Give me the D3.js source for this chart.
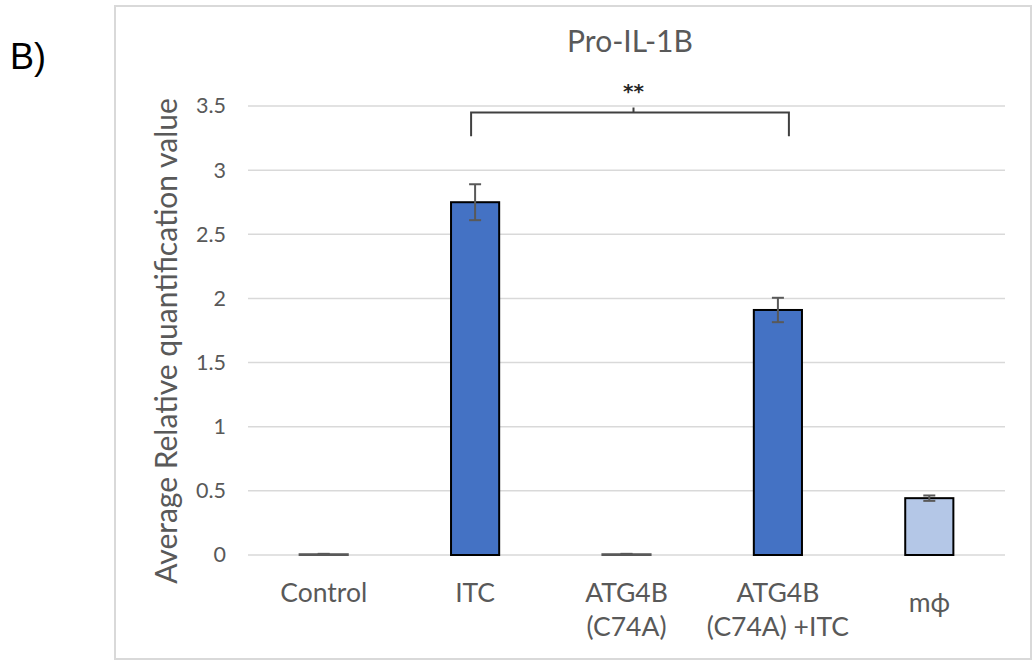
<!DOCTYPE html>
<html>
<head>
<meta charset="utf-8">
<script src="https://cdn.jsdelivr.net/npm/d3@7"></script>
<style>
  html, body { margin: 0; padding: 0; background: #fff; }
  svg text { font-family: Lato, "Open Sans", sans-serif; }
</style>
</head>
<body>
<svg id="chart" width="1036" height="664"></svg>
<script>
// Data
const categories = ['Control', 'ITC', 'ATG4B\n(C74A)', 'ATG4B\n(C74A) +ITC', 'm\u03d5'];
const values = [0.006, 2.75, 0.006, 1.91, 0.443];
const errors = [0.003, 0.14, 0.003, 0.095, 0.021];
const barColors = ['#4472c4', '#4472c4', '#4472c4', '#4472c4', '#b4c7e7'];
const yTicks = [0, 0.5, 1, 1.5, 2, 2.5, 3, 3.5];
const bracket = { from: 'ITC', to: 'ATG4B\n(C74A) +ITC', top: 3.45, foot: 3.265, label: '**' };

const svg = d3.select('#chart');

// Outer chart frame
svg.append('rect')
  .attr('x', 115).attr('y', 6)
  .attr('width', 916).attr('height', 653)
  .attr('fill', '#fff').attr('stroke', '#d9d9d9').attr('stroke-width', 2);

svg.append('text')
  .attr('x', 10).attr('y', 69)
  .style('font-family', '"Liberation Sans", Arial, sans-serif')
  .attr('font-size', 36).attr('fill', '#000')
  .text('B)');

const x = d3.scaleBand().domain(categories).range([248, 1005]).padding(0);
const y = d3.scaleLinear().domain([0, 3.5]).range([555, 106]);
const barW = x.bandwidth() * 0.318;
const cx = c => x(c) + x.bandwidth() / 2;

// Gridlines
svg.append('g')
  .selectAll('line')
  .data(yTicks)
  .join('line')
  .attr('x1', 248).attr('x2', 1005)
  .attr('y1', d => y(d)).attr('y2', d => y(d))
  .attr('stroke', '#d9d9d9').attr('stroke-width', 1.5);

// Y axis tick labels
const yAxis = svg.append('g')
  .attr('transform', 'translate(226,0)')
  .call(d3.axisLeft(y).tickValues(yTicks).tickSize(0).tickPadding(0).tickFormat(d3.format('')));
yAxis.select('.domain').remove();
yAxis.selectAll('text')
  .attr('font-size', 21.5).attr('fill', '#595959')
  .style('font-family', 'Lato, sans-serif');

// Bars
svg.append('g')
  .selectAll('rect')
  .data(categories)
  .join('rect')
  .attr('x', c => cx(c) - barW / 2)
  .attr('y', (c, i) => y(values[i]))
  .attr('width', barW)
  .attr('height', (c, i) => y(0) - y(values[i]))
  .attr('fill', (c, i) => barColors[i])
  .attr('stroke', (c, i) => values[i] < 0.05 ? '#595959' : '#000')
  .attr('stroke-width', 2);

// Error bars
const err = svg.append('g').attr('stroke', '#595959').attr('stroke-width', 2);
categories.forEach((c, i) => {
  const hi = y(values[i] + errors[i]), lo = y(values[i] - errors[i]);
  err.append('line').attr('x1', cx(c)).attr('x2', cx(c)).attr('y1', hi).attr('y2', lo);
  err.append('line').attr('x1', cx(c) - 6).attr('x2', cx(c) + 6).attr('y1', hi).attr('y2', hi);
  err.append('line').attr('x1', cx(c) - 6).attr('x2', cx(c) + 6).attr('y1', lo).attr('y2', lo);
});

// X category labels
const xl = svg.append('g')
  .selectAll('text')
  .data(categories)
  .join('text')
  .attr('text-anchor', 'middle')
  .attr('font-size', 26.5).attr('fill', '#595959')
  .attr('y', (c, i) => i === 4 ? 612 : 602);
xl.each(function (c) {
  const lines = c.split('\n');
  d3.select(this).selectAll('tspan')
    .data(lines)
    .join('tspan')
    .attr('x', cx(c))
    .attr('dy', (d, j) => j === 0 ? 0 : 34)
    .text(d => d);
});

// Significance bracket
const bx1 = cx(bracket.from) - 4, bx2 = cx(bracket.to) + 11;
const bmid = (cx(bracket.from) + cx(bracket.to)) / 2 + 7;
svg.append('path')
  .attr('d', `M${bx1},${y(bracket.foot)}V${y(bracket.top)}H${bx2}V${y(bracket.foot)}M${bmid},${y(bracket.top)}V${y(bracket.top) - 5}`)
  .attr('fill', 'none').attr('stroke', '#404040').attr('stroke-width', 2);
svg.append('text')
  .attr('x', bmid).attr('y', 98)
  .attr('text-anchor', 'middle')
  .style('font-family', '"DejaVu Sans", sans-serif')
  .attr('font-size', 20).attr('font-weight', 'bold').attr('fill', '#262626')
  .text(bracket.label);

// Title
svg.append('text')
  .attr('x', 630).attr('y', 52)
  .attr('text-anchor', 'middle')
  .attr('font-size', 30).attr('fill', '#595959')
  .text('Pro-IL-1B');

// Y axis title
svg.append('text')
  .attr('transform', 'translate(177,341) rotate(-90)')
  .attr('text-anchor', 'middle')
  .attr('font-size', 30).attr('fill', '#595959')
  .text('Average Relative quantification value');
</script>
</body>
</html>
